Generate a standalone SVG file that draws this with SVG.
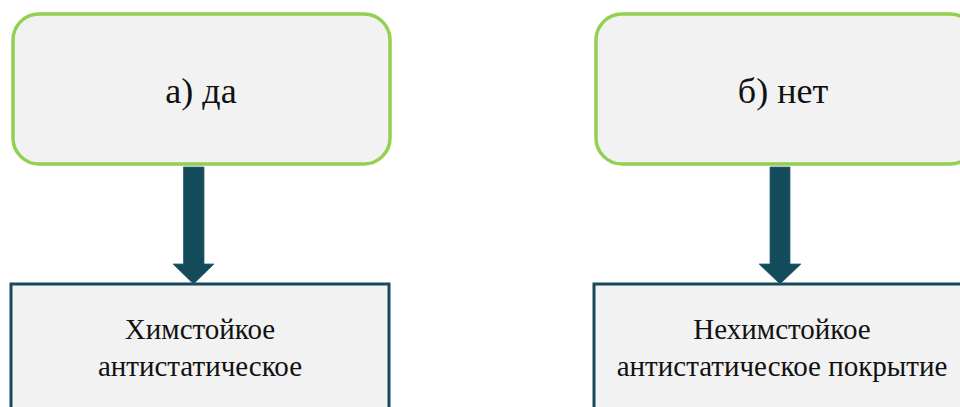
<svg xmlns="http://www.w3.org/2000/svg" width="960" height="407" viewBox="0 0 960 407">
<style>
.top{fill:#F2F2F2;stroke:#92D050;stroke-width:3.5}
.bot{fill:#F2F2F2;stroke:#17495A;stroke-width:3}
.arr{fill:#134B5B;stroke:#2E5F75;stroke-width:0.8}
.t1{font-family:'Liberation Serif','DejaVu Serif',serif;font-size:36px;fill:#111;text-anchor:middle}
.t2{font-family:'Liberation Serif','DejaVu Serif',serif;font-size:29px;fill:#111;text-anchor:middle}
</style>
<rect width="960" height="407" fill="#FFFFFF"/>
<g id="node-yes">
<rect class="top" x="13" y="14" width="377" height="150" rx="26" ry="26"/>
<text class="t1" x="201" y="103">а) да</text>
</g>
<g id="node-no">
<rect class="top" x="596" y="14" width="380" height="150" rx="26" ry="26"/>
<text class="t1" x="783" y="103">б) нет</text>
</g>
<g id="node-chem">
<rect class="bot" x="11" y="284" width="378" height="140"/>
<text class="t2" x="200" y="339">Химстойкое</text>
<text class="t2" x="200" y="376">антистатическое</text>
</g>
<g id="node-nochem">
<rect class="bot" x="594" y="284" width="380" height="140"/>
<text class="t2" x="782" y="339">Нехимстойкое</text>
<text class="t2" x="782" y="376">антистатическое покрытие</text>
</g>
<g id="connectors">
<polygon class="arr" points="183.5,167 204,167 204,264 214,264 193.5,284 173,264 183.5,264"/>
<polygon class="arr" points="770,167 790,167 790,264 801,264 780,284 759,264 770,264"/>
</g>
</svg>
